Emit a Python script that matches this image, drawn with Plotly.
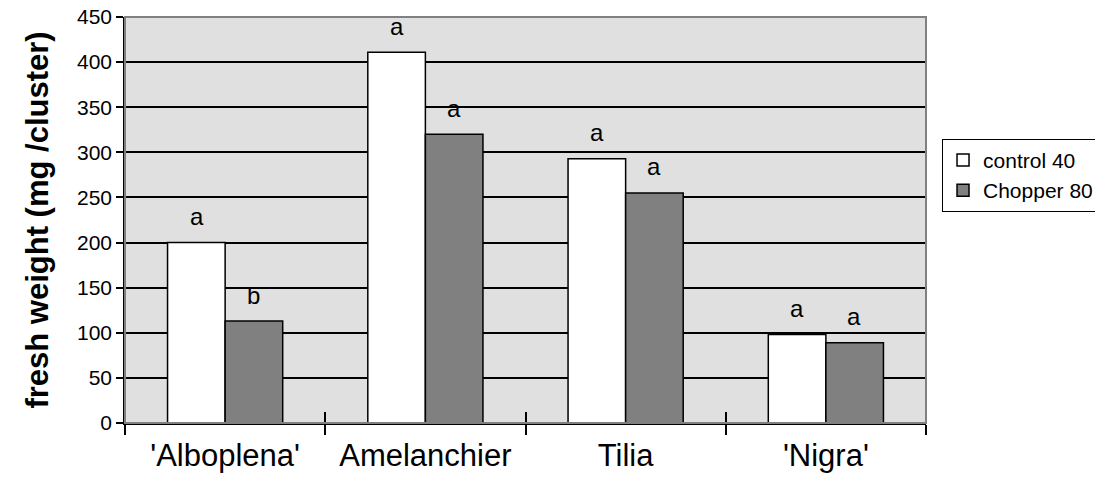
import plotly.graph_objects as go

categories = ["'Alboplena'", "Amelanchier", "Tilia", "'Nigra'"]
control_40 = [200, 411, 293, 98]
chopper_80 = [113, 320, 255, 89]
control_letters = ["a", "a", "a", "a"]
chopper_letters = ["b", "a", "a", "a"]
y_ticks = [0, 50, 100, 150, 200, 250, 300, 350, 400, 450]

FONT = "Liberation Sans, Arial, sans-serif"

fig = go.Figure()
fig.add_trace(go.Bar(
    name="control 40", x=categories, y=control_40,
    marker=dict(color="white", line=dict(color="black", width=1.5)),
))
fig.add_trace(go.Bar(
    name="Chopper 80", x=categories, y=chopper_80,
    marker=dict(color="#808080", line=dict(color="black", width=1.5)),
))

# significance letters above bars
for cat, v, t in zip(categories, control_40, control_letters):
    fig.add_annotation(x=cat, y=v, text=t, showarrow=False, xshift=-28.5,
                       yshift=26, yanchor="middle",
                       font=dict(family=FONT, size=24, color="black"))
for cat, v, t in zip(categories, chopper_80, chopper_letters):
    fig.add_annotation(x=cat, y=v, text=t, showarrow=False, xshift=28.5,
                       yshift=26, yanchor="middle",
                       font=dict(family=FONT, size=24, color="black"))

# plot frame: gray top and right edges
fig.add_shape(type="rect", xref="paper", yref="paper", x0=0, x1=1, y0=0, y1=1,
              line=dict(color="#808080", width=2), layer="above")

fig.update_layout(
    width=1095, height=488,
    margin=dict(l=125, r=169, t=17, b=65, autoexpand=False),
    paper_bgcolor="white",
    plot_bgcolor="#e0e0e0",
    barmode="group",
    bargap=0.425,
    bargroupgap=0,
    font=dict(family=FONT, color="black"),
    showlegend=True,
    legend=dict(
        x=1.02, y=0.70, xanchor="left", yanchor="top",
        bgcolor="white", bordercolor="black", borderwidth=1,
        font=dict(family=FONT, size=21, color="black"),
        traceorder="normal",
    ),
    xaxis=dict(
        type="category",
        categoryorder="array", categoryarray=categories,
        range=[-0.5, 3.5],
        automargin=False,
        showline=True, linecolor="black", linewidth=1.5,
        ticks="outside", ticklen=10, tickwidth=1.5, tickcolor="black",
        tickson="boundaries",
        showgrid=False,
        tickfont=dict(family=FONT, size=31, color="black"),
        ticklabelstandoff=4,
    ),
    xaxis2=dict(
        type="category", overlaying="x", side="bottom",
        categoryorder="array", categoryarray=categories,
        range=[-0.5, 3.5],
        automargin=False,
        showline=False, showgrid=False,
        ticks="inside", ticklen=11, tickwidth=1.5, tickcolor="black",
        tickson="boundaries", showticklabels=False,
    ),
    yaxis=dict(
        range=[0, 450],
        tickvals=y_ticks,
        automargin=False,
        ticklabeloverflow="allow",
        showline=True, linecolor="black", linewidth=1.5,
        ticks="outside", ticklen=7, tickwidth=1.5, tickcolor="black",
        showgrid=True, gridcolor="black", gridwidth=1.5,
        zeroline=False,
        tickfont=dict(family=FONT, size=21, color="black"),
        title=dict(text="<b>fresh weight (mg /cluster)</b>",
                   font=dict(family=FONT, size=31, color="black"),
                   standoff=19),
    ),
)

# invisible helper trace so the secondary x axis (crossing ticks) is drawn
fig.add_trace(go.Scatter(x=categories, y=[0, 0, 0, 0], xaxis="x2",
                         mode="markers", marker=dict(opacity=0),
                         showlegend=False, hoverinfo="skip"))

fig.write_html(
    "out.html",
    config={"displayModeBar": False},
    post_script="document.body.style.margin='0';document.body.style.overflow='hidden';",
)
